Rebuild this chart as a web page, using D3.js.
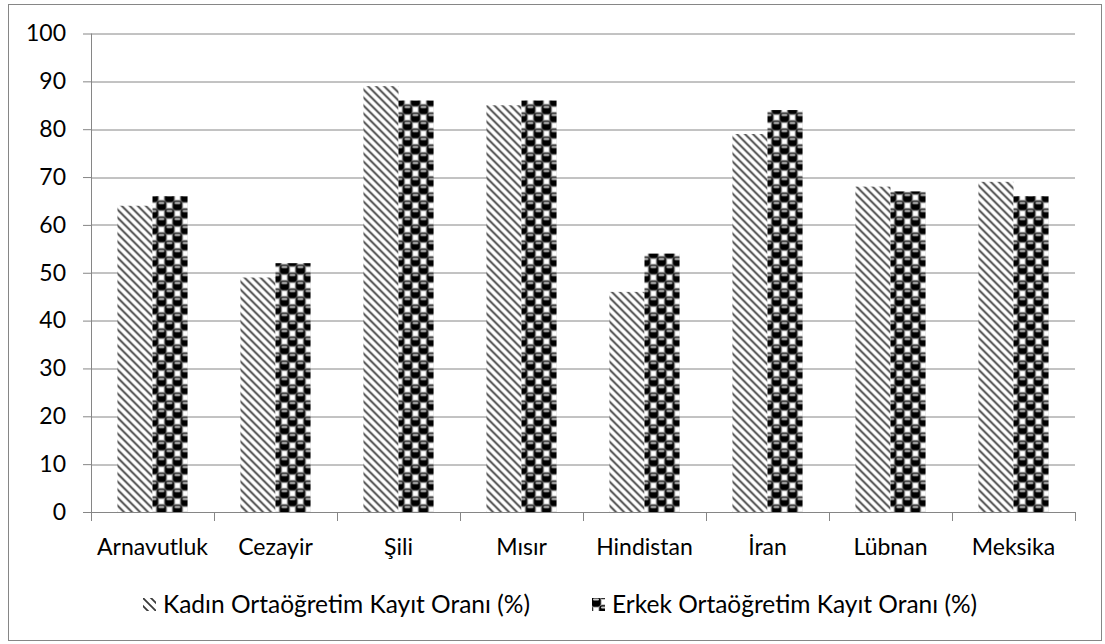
<!DOCTYPE html>
<html>
<head>
<meta charset="utf-8">
<script src="https://cdn.jsdelivr.net/npm/d3@7"></script>
<style>
  body { margin: 0; background: #fff; }
  text { font-family: Lato, "Open Sans", sans-serif; fill: #000; }
</style>
</head>
<body>
<div id="chart"></div>
<script>
// Data
var countries = ["Arnavutluk", "Cezayir", "Şili", "Mısır", "Hindistan", "İran", "Lübnan", "Meksika"];
var female = [64, 49, 89, 85, 46, 79, 68, 69];
var male = [66, 52, 86, 86, 54, 84, 67, 66];
var seriesNames = ["Kadın Ortaöğretim Kayıt Oranı (%)", "Erkek Ortaöğretim Kayıt Oranı (%)"];
var yTicks = [0, 10, 20, 30, 40, 50, 60, 70, 80, 90, 100];

var svgWidth = 1105;
var svgHeight = 644;
var margin = { top: 33.5, right: 30, bottom: 132, left: 91 };
var chartWidth = 1075 - margin.left;
var chartHeight = 512 - margin.top;
var fontSize = "23px";

var svg = d3.select("#chart")
  .append("svg")
  .attr("width", svgWidth)
  .attr("height", svgHeight);

// patterns
var defs = svg.append("defs");
var stripes = defs.append("pattern")
  .attr("id", "stripes")
  .attr("patternUnits", "userSpaceOnUse")
  .attr("width", 8).attr("height", 8);
stripes.append("rect").attr("width", 8).attr("height", 8).attr("fill", "#fff");
stripes.append("path")
  .attr("d", "M-2,-2 L10,10 M-2,6 L2,10 M6,-2 L10,2")
  .attr("stroke", "#3a3a3a").attr("stroke-width", 1.8);

var spheres = defs.append("pattern")
  .attr("id", "spheres")
  .attr("patternUnits", "userSpaceOnUse")
  .attr("width", 16).attr("height", 16);
spheres.append("rect").attr("width", 16).attr("height", 16).attr("fill", "#fff");
[[4, 4], [12, 12], [20, 4], [4, 20], [-4, 12], [12, -4]].forEach(function(c) {
  spheres.append("rect")
    .attr("x", c[0] - 5).attr("y", c[1] - 5)
    .attr("width", 10).attr("height", 10).attr("rx", 3)
    .attr("fill", "#000").attr("stroke", "#777").attr("stroke-width", 0.8);
  spheres.append("rect")
    .attr("x", c[0] - 3).attr("y", c[1] - 3.5)
    .attr("width", 6).attr("height", 2).attr("rx", 1)
    .attr("fill", "#ccc");
});

// outer border
svg.append("rect")
  .attr("x", 8.5).attr("y", 4.5)
  .attr("width", 1093).attr("height", 636)
  .attr("fill", "none")
  .attr("stroke", "#868686");

var chart = svg.append("g")
  .attr("transform", `translate(${margin.left}, ${margin.top})`);

var x = d3.scaleBand()
  .domain(countries)
  .range([0, chartWidth])
  .paddingInner(0.43)
  .paddingOuter(0.215);

var x1 = d3.scaleBand()
  .domain([0, 1])
  .range([0, x.bandwidth()]);

var y = d3.scaleLinear()
  .domain([0, 100])
  .range([chartHeight, 0]);

// gridlines
chart.append("g")
  .selectAll("line")
  .data(yTicks.slice(1))
  .enter().append("line")
    .attr("x1", 0).attr("x2", chartWidth)
    .attr("y1", function(d) { return Math.round(y(d)) + 0.5; })
    .attr("y2", function(d) { return Math.round(y(d)) + 0.5; })
    .attr("stroke", "#868686");

// bars
var groups = chart.selectAll(".grp")
  .data(countries)
  .enter().append("g")
    .attr("class", "grp")
    .attr("transform", function(d) { return `translate(${x(d)},0)`; });

groups.append("rect")
  .attr("x", x1(0))
  .attr("width", x1.bandwidth())
  .attr("y", function(d, i) { return y(female[i]); })
  .attr("height", function(d, i) { return chartHeight - y(female[i]); })
  .attr("fill", "url(#stripes)");

groups.append("rect")
  .attr("x", x1(1))
  .attr("width", x1.bandwidth())
  .attr("y", function(d, i) { return y(male[i]); })
  .attr("height", function(d, i) { return chartHeight - y(male[i]); })
  .attr("fill", "url(#spheres)");

// y axis
var leftAxis = d3.axisLeft(y)
  .tickValues(yTicks)
  .tickSize(8)
  .tickPadding(17);
var yAxis = chart.append("g").call(leftAxis);
yAxis.select(".domain").attr("stroke", "#868686").attr("d", `M0.5,${chartHeight}V0`);
yAxis.selectAll(".tick line").attr("stroke", "#868686");
yAxis.selectAll("text").style("font-size", fontSize).style("font-family", "Lato, sans-serif");

// x axis
chart.append("line")
  .attr("x1", 0).attr("x2", chartWidth)
  .attr("y1", chartHeight + 0.5).attr("y2", chartHeight + 0.5)
  .attr("stroke", "#868686");

var step = x.step();
chart.append("g")
  .selectAll("line")
  .data(d3.range(countries.length + 1))
  .enter().append("line")
    .attr("x1", function(d) { return Math.round(d * step) + 0.5; })
    .attr("x2", function(d) { return Math.round(d * step) + 0.5; })
    .attr("y1", chartHeight)
    .attr("y2", chartHeight + 9)
    .attr("stroke", "#868686");

chart.append("g")
  .selectAll("text")
  .data(countries)
  .enter().append("text")
    .attr("x", function(d) { return x(d) + x.bandwidth() / 2; })
    .attr("y", chartHeight + 43)
    .style("text-anchor", "middle")
    .style("font-size", fontSize)
    .text(function(d) { return d; });

// legend
var legendItems = [
  { name: seriesNames[0], fill: "url(#stripes)", x: 143 },
  { name: seriesNames[1], fill: "url(#spheres)", x: 592 }
];
var legend = svg.append("g")
  .selectAll("g")
  .data(legendItems)
  .enter().append("g")
    .attr("transform", function(d) { return `translate(${d.x}, 598)`; });

legend.append("rect")
  .attr("width", 13).attr("height", 13)
  .attr("fill", function(d) { return d.fill; });

legend.append("text")
  .attr("x", 20)
  .attr("y", 15)
  .style("font-size", "24.5px")
  .text(function(d) { return d.name; });
</script>
</body>
</html>
